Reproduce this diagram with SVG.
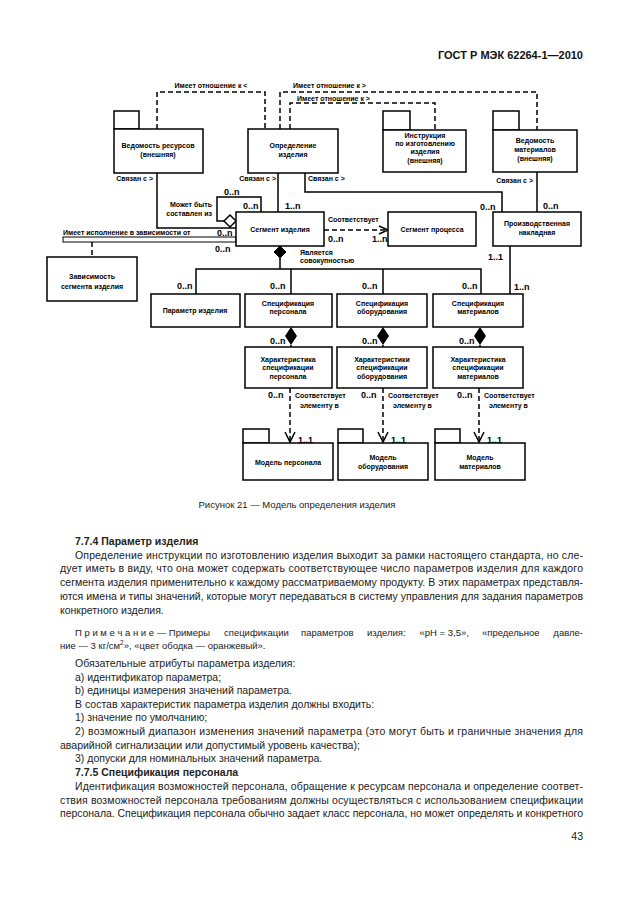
<svg xmlns="http://www.w3.org/2000/svg" width="630" height="913" viewBox="0 0 630 913">
<style>
.box{fill:#fff;stroke:#000;stroke-width:1.5}
.ln{fill:none;stroke:#000;stroke-width:1.5}
.dash{fill:none;stroke:#000;stroke-width:1.5;stroke-dasharray:5 3}
.t{font-family:"Liberation Sans",Arial,sans-serif;font-weight:bold;font-size:7px;text-anchor:middle;fill:#000}
.lab{font-family:"Liberation Sans",Arial,sans-serif;font-weight:bold;font-size:7px;fill:#000}
.card{font-family:"Liberation Sans",Arial,sans-serif;font-weight:bold;font-size:9px;fill:#000}
.body{font-family:"Liberation Sans",Arial,sans-serif;font-size:10.5px;fill:#222}
.note{font-family:"Liberation Sans",Arial,sans-serif;font-size:9.5px;fill:#222}
.bold{font-weight:bold}
</style>
<rect width="630" height="913" fill="#fff"/>
<text x="583" y="59" text-anchor="end" style="font-family:'Liberation Sans',Arial,sans-serif;font-weight:bold;font-size:11px" fill="#111">ГОСТ Р МЭК 62264-1—2010</text>

<g id="connectors">
  <!-- top dashed relations -->
  <polyline class="dash" points="157,129 157,92 265,92 265,129"/>
  <polyline class="dash" points="280,129 280,92 537,92 537,130"/>
  <polyline class="dash" points="290,129 290,103 435,103 435,130"/>
  <text class="lab" x="211" y="88" text-anchor="middle">Имеет отношение к &lt;</text>
  <text class="lab" x="293" y="88">Имеет отношение к &gt;</text>
  <text class="lab" x="297" y="101">Имеет отношение к &gt;</text>
  <!-- Связан с -->
  <polyline class="ln" points="157,173 157,228 236,228"/>
  <text class="lab" x="153" y="181" text-anchor="end">Связан с &gt;</text>
  <line class="ln" x1="278" y1="173" x2="278" y2="212"/>
  <text class="lab" x="276" y="181" text-anchor="end">Связан с &gt;</text>
  <polyline class="ln" points="305,173 305,192 502,192 502,212"/>
  <text class="lab" x="308" y="181">Связан с &gt;</text>
  <line class="ln" x1="537" y1="172" x2="537" y2="212"/>
  <text class="lab" x="533" y="183" text-anchor="end">Связан с &gt;</text>
  <text class="card" x="224" y="195">0..n</text>
  <text class="card" x="285" y="209">1..n</text>
  <text class="card" x="480" y="210">0..n</text>
  <text class="card" x="543" y="209">0..n</text>
  <!-- self loop -->
  <polyline class="ln" points="224,221 217,221 217,197 261,197 261,212"/>
  <polygon class="box" points="236,221 230,215 224,221 230,227"/>
  <text class="lab" x="212" y="207" text-anchor="end">Может быть</text>
  <text class="lab" x="212" y="216" text-anchor="end">составлен из</text>
  <text class="card" x="243" y="209">0..n</text>
  <!-- dependency double line -->
  <rect class="box" x="63" y="237" width="173" height="5" style="stroke-width:1"/>
  <text class="lab" x="63" y="235">Имеет исполнение в зависимости от</text>
  <text class="card" x="217" y="236">0..n</text>
  <text class="card" x="215" y="252">0..n</text>
  <line class="dash" x1="92" y1="242" x2="92" y2="257"/>
  <!-- Соответствует -->
  <line class="dash" x1="324" y1="230" x2="387" y2="230"/>
  <polyline class="ln" points="379,226 388,230 379,234"/>
  <text class="lab" x="328" y="222">Соответствует</text>
  <text class="card" x="328" y="242">0..n</text>
  <text class="card" x="372" y="242">1..n</text>
  <!-- aggregation -->
  <polygon points="280,246 286,252 280,258 274,252" fill="#000" stroke="#000"/>
  <line class="ln" x1="280" y1="258" x2="280" y2="269"/>
  <polyline class="ln" points="196,294 196,269 481,269 481,294"/>
  <line class="ln" x1="291" y1="269" x2="291" y2="294"/>
  <line class="ln" x1="383" y1="269" x2="383" y2="294"/>
  <text class="lab" x="300" y="255">Является</text>
  <text class="lab" x="300" y="263">совокупностью</text>
  <text class="card" x="177" y="289">0..n</text>
  <text class="card" x="270" y="289">0..n</text>
  <text class="card" x="362" y="289">0..n</text>
  <text class="card" x="462" y="289">0..n</text>
  <line class="ln" x1="510" y1="246" x2="510" y2="294"/>
  <text class="card" x="488" y="260">1..1</text>
  <text class="card" x="514" y="290">1..n</text>
  <!-- spec -> characteristic -->
  <polygon points="291,327 297,336 291,345 285,336" fill="#000"/>
  <line class="ln" x1="291" y1="345" x2="291" y2="347"/>
  <polygon points="383,327 389,336 383,345 377,336" fill="#000"/>
  <line class="ln" x1="383" y1="345" x2="383" y2="347"/>
  <polygon points="480,327 486,336 480,345 474,336" fill="#000"/>
  <line class="ln" x1="480" y1="345" x2="480" y2="347"/>
  <text class="card" x="270" y="344">0..n</text>
  <text class="card" x="362" y="344">0..n</text>
  <text class="card" x="459" y="344">0..n</text>
  <!-- characteristic -> model -->
  <line class="dash" x1="290" y1="388" x2="290" y2="441"/>
  <polyline class="ln" points="285,432 290,442 295,432"/>
  <line class="dash" x1="383" y1="388" x2="383" y2="441"/>
  <polyline class="ln" points="378,432 383,442 388,432"/>
  <line class="dash" x1="479" y1="388" x2="479" y2="441"/>
  <polyline class="ln" points="474,432 479,442 484,432"/>
  <text class="card" x="268" y="398">0..n</text>
  <text class="card" x="361" y="398">0..n</text>
  <text class="card" x="457" y="398">0..n</text>
  <text class="lab" x="295" y="398">Соответствует</text>
  <text class="lab" x="300" y="408">элементу в</text>
  <text class="lab" x="388" y="398">Соответствует</text>
  <text class="lab" x="393" y="408">элементу в</text>
  <text class="lab" x="484" y="398">Соответствует</text>
  <text class="lab" x="489" y="408">элементу в</text>
  <text class="card" x="298" y="443">1..1</text>
  <text class="card" x="391" y="443">1..1</text>
  <text class="card" x="487" y="443">1..1</text>
</g>

<g id="vedomost-resursov">
  <rect class="box" x="114" y="111" width="25" height="18"/>
  <rect class="box" x="114" y="129" width="89" height="44"/>
  <text class="t" x="158" y="148">Ведомость ресурсов</text>
  <text class="t" x="158" y="157">(внешняя)</text>
</g>
<g id="opredelenie-izdeliya">
  <rect class="box" x="248" y="129" width="90" height="44"/>
  <text class="t" x="293" y="148">Определение</text>
  <text class="t" x="293" y="157">изделия</text>
</g>
<g id="instrukciya">
  <rect class="box" x="383" y="111" width="27" height="19"/>
  <rect class="box" x="383" y="130" width="83" height="42"/>
  <text class="t" x="425" y="138">Инструкция</text>
  <text class="t" x="425" y="146">по изготовлению</text>
  <text class="t" x="425" y="154">изделия</text>
  <text class="t" x="425" y="163">(внешняя)</text>
</g>
<g id="vedomost-materialov">
  <rect class="box" x="493" y="111" width="26" height="19"/>
  <rect class="box" x="493" y="130" width="84" height="42"/>
  <text class="t" x="535" y="143">Ведомость</text>
  <text class="t" x="535" y="152">материалов</text>
  <text class="t" x="535" y="161">(внешняя)</text>
</g>
<g id="segment-izdeliya">
  <rect class="box" x="236" y="212" width="88" height="34"/>
  <text class="t" x="280" y="232">Сегмент изделия</text>
</g>
<g id="segment-processa">
  <rect class="box" x="388" y="212" width="88" height="34"/>
  <text class="t" x="432" y="232">Сегмент процесса</text>
</g>
<g id="proizv-nakladnaya">
  <rect class="box" x="493" y="212" width="88" height="34"/>
  <text class="t" x="537" y="226">Производственная</text>
  <text class="t" x="537" y="235">накладная</text>
</g>
<g id="zavisimost">
  <rect class="box" x="47" y="257" width="90" height="44"/>
  <text class="t" x="92" y="279">Зависимость</text>
  <text class="t" x="92" y="289">сегмента изделия</text>
</g>
<g id="parametr-izdeliya">
  <rect class="box" x="151" y="294" width="89" height="33"/>
  <text class="t" x="195" y="313">Параметр изделия</text>
</g>
<g id="spec-personala">
  <rect class="box" x="245" y="294" width="87" height="33"/>
  <text class="t" x="288" y="306">Спецификация</text>
  <text class="t" x="288" y="314">персонала</text>
</g>
<g id="spec-oborudovaniya">
  <rect class="box" x="337" y="294" width="90" height="33"/>
  <text class="t" x="382" y="306">Спецификация</text>
  <text class="t" x="382" y="314">оборудования</text>
</g>
<g id="spec-materialov">
  <rect class="box" x="433" y="294" width="90" height="33"/>
  <text class="t" x="478" y="306">Спецификация</text>
  <text class="t" x="478" y="314">материалов</text>
</g>
<g id="har-personala">
  <rect class="box" x="245" y="347" width="87" height="41"/>
  <text class="t" x="288" y="362">Характеристика</text>
  <text class="t" x="288" y="370">спецификации</text>
  <text class="t" x="288" y="379">персонала</text>
</g>
<g id="har-oborudovaniya">
  <rect class="box" x="337" y="347" width="90" height="41"/>
  <text class="t" x="382" y="362">Характеристики</text>
  <text class="t" x="382" y="370">спецификации</text>
  <text class="t" x="382" y="379">оборудования</text>
</g>
<g id="har-materialov">
  <rect class="box" x="433" y="347" width="90" height="41"/>
  <text class="t" x="478" y="362">Характеристика</text>
  <text class="t" x="478" y="370">спецификации</text>
  <text class="t" x="478" y="379">материалов</text>
</g>
<g id="model-personala">
  <rect class="box" x="243" y="429" width="26" height="14"/>
  <rect class="box" x="243" y="443" width="90" height="37"/>
  <text class="t" x="288" y="465">Модель персонала</text>
</g>
<g id="model-oborudovaniya">
  <rect class="box" x="338" y="429" width="25" height="14"/>
  <rect class="box" x="338" y="443" width="90" height="37"/>
  <text class="t" x="383" y="460">Модель</text>
  <text class="t" x="383" y="469">оборудования</text>
</g>
<g id="model-materialov">
  <rect class="box" x="435" y="429" width="25" height="14"/>
  <rect class="box" x="435" y="443" width="90" height="37"/>
  <text class="t" x="480" y="460">Модель</text>
  <text class="t" x="480" y="469">материалов</text>
</g>

<text class="note" x="297" y="508" text-anchor="middle">Рисунок  21 — Модель определения изделия</text>

<g id="body">
  <text class="body bold" x="75" y="545">7.7.4 Параметр изделия</text>
  <text class="body" x="75" y="559" textLength="508" lengthAdjust="spacing">Определение инструкции по изготовлению изделия выходит за рамки настоящего стандарта, но сле-</text>
  <text class="body" x="60" y="572" textLength="523" lengthAdjust="spacing">дует иметь в виду, что она может содержать соответствующее число параметров изделия для каждого</text>
  <text class="body" x="60" y="586" textLength="523" lengthAdjust="spacing">сегмента изделия применительно к каждому рассматриваемому продукту. В этих параметрах представля-</text>
  <text class="body" x="60" y="600" textLength="523" lengthAdjust="spacing">ются имена и типы значений, которые могут передаваться в систему управления для задания параметров</text>
  <text class="body" x="60" y="614">конкретного изделия.</text>
  <text class="note" y="636"><tspan x="75">П р и м е ч а н и е — Примеры</tspan><tspan x="224">спецификации</tspan><tspan x="301">параметров</tspan><tspan x="367">изделия:</tspan><tspan x="419.5">«pH = 3,5»,</tspan><tspan x="482">«предельное</tspan><tspan x="583" text-anchor="end">давле-</tspan></text>
  <text class="note" x="60" y="649">ние — 3 кг/см<tspan dy="-4" font-size="6.5">2</tspan><tspan dy="4">», «цвет ободка — оранжевый».</tspan></text>
  <text class="body" x="75" y="667">Обязательные атрибуты параметра изделия:</text>
  <text class="body" x="75" y="681">a) идентификатор параметра;</text>
  <text class="body" x="75" y="694">b) единицы измерения значений параметра.</text>
  <text class="body" x="75" y="708">В состав характеристик параметра изделия должны входить:</text>
  <text class="body" x="75" y="721">1) значение по умолчанию;</text>
  <text class="body" x="75" y="735" textLength="508" lengthAdjust="spacing">2) возможный диапазон изменения значений параметра (это могут быть и граничные значения для</text>
  <text class="body" x="60" y="749">аварийной сигнализации или допустимый уровень качества);</text>
  <text class="body" x="75" y="762">3) допуски для номинальных значений параметра.</text>
  <text class="body bold" x="75" y="776">7.7.5 Спецификация персонала</text>
  <text class="body" x="75" y="790" textLength="508" lengthAdjust="spacing">Идентификация возможностей персонала, обращение к ресурсам персонала и определение соответ-</text>
  <text class="body" x="60" y="804" textLength="523" lengthAdjust="spacing">ствия возможностей персонала требованиям должны осуществляться с использованием  спецификации</text>
  <text class="body" x="60" y="817" textLength="523" lengthAdjust="spacing">персонала. Спецификация персонала обычно задает класс персонала, но может определять и конкретного</text>
  <text class="body" x="583" y="840" text-anchor="end">43</text>
</g>
</svg>
